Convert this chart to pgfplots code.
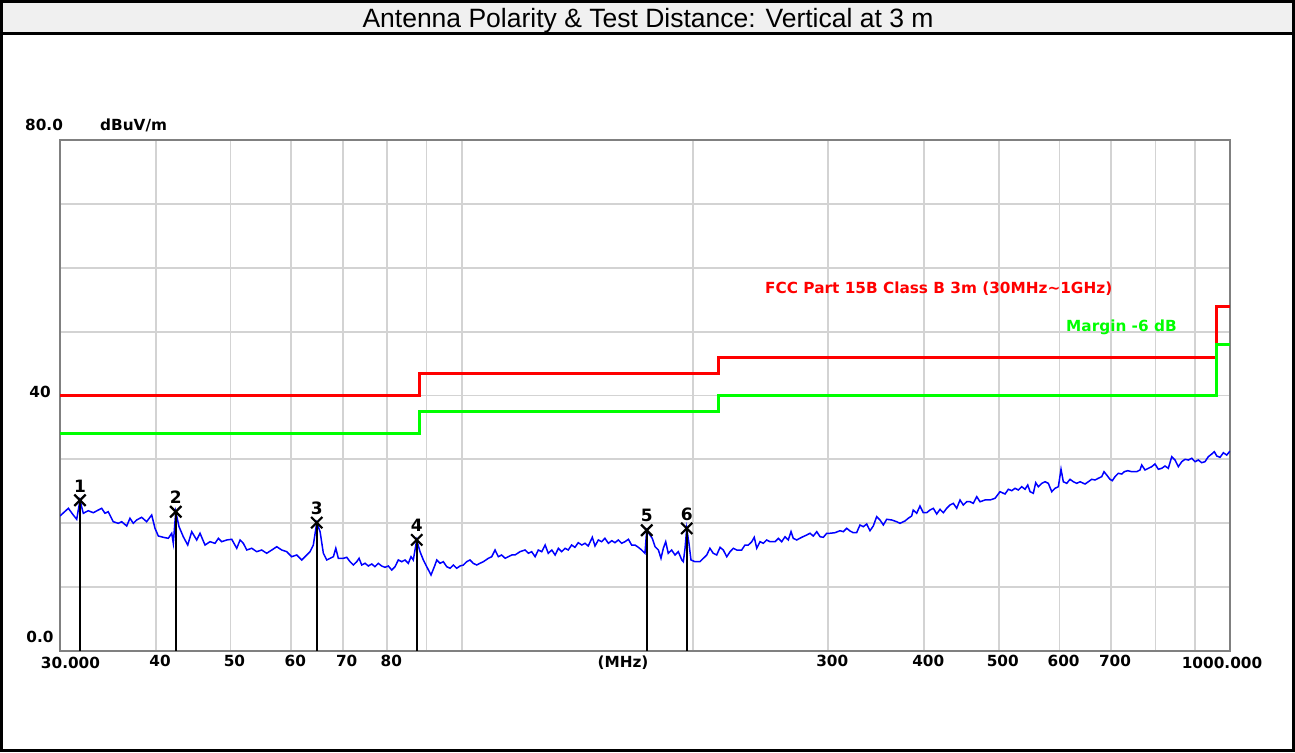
\documentclass[border=0pt]{standalone}
\usepackage{fontspec}
\setmainfont{Liberation Sans}
\newfontfamily\dejavu{DejaVu Sans}
\usepackage{pgfplots}
\pgfplotsset{compat=1.18}
\usepackage{pgfplotstable}
\definecolor{gridgray}{RGB}{211,211,211}
\definecolor{framegray}{RGB}{128,128,128}
\definecolor{titlebg}{RGB}{240,240,240}
\definecolor{limred}{RGB}{255,0,0}
\definecolor{margreen}{RGB}{0,255,0}
\definecolor{tracecol}{RGB}{0,0,255}
\newcommand\lb{\dejavu\bfseries\fontsize{15.3pt}{17pt}\selectfont}
\newcommand\mb{\dejavu\bfseries\fontsize{17pt}{19pt}\selectfont}

\pgfplotstableread{
f L
30.00 21.14
30.76 22.34
31.22 21.29
31.54 20.62
31.85 23.60
32.17 21.56
32.65 21.96
33.15 21.65
33.65 22.07
33.99 22.34
34.33 21.56
34.67 21.81
35.19 20.24
35.73 19.99
36.09 20.24
36.64 19.57
37.00 20.78
37.37 19.99
37.75 20.51
38.32 20.93
38.90 20.24
39.49 21.29
39.88 19.21
40.28 18.00
40.89 17.80
41.50 17.64
41.93 18.43
42.13 16.86
42.44 21.81
42.86 19.46
43.41 17.89
43.99 16.59
44.52 18.68
45.19 17.38
45.64 18.43
46.33 16.59
47.03 17.11
47.74 16.86
48.22 17.64
48.71 17.11
49.44 17.38
50.19 17.49
50.95 16.08
51.46 17.38
51.97 16.86
52.50 15.81
53.29 16.08
54.10 15.55
54.91 15.81
55.74 15.30
56.59 15.81
57.44 16.33
58.31 15.81
59.19 15.55
60.08 14.76
60.99 15.03
61.91 14.25
62.53 14.76
63.47 15.55
64.10 16.59
64.76 20.09
65.41 18.68
66.05 15.30
66.73 14.25
67.40 14.51
68.07 14.76
68.56 16.08
69.09 14.51
70.14 14.51
70.85 14.67
71.56 13.98
72.27 13.46
73.01 13.98
73.52 14.51
74.11 13.46
74.85 13.73
75.59 13.31
76.37 13.62
77.11 13.20
77.88 13.73
78.68 13.31
79.46 13.10
80.25 13.31
81.07 12.68
81.88 13.20
82.69 14.25
83.54 13.98
84.37 14.25
85.21 13.73
85.90 14.76
86.49 14.25
87.38 17.38
88.25 15.55
89.13 14.25
90.04 13.20
91.21 11.90
92.30 13.46
92.78 14.25
93.70 13.73
94.63 13.98
95.60 13.20
96.55 12.95
97.51 13.46
98.51 12.95
99.49 13.31
100.5 13.46
101.5 13.98
102.5 14.25
103.5 13.73
104.6 13.46
105.6 13.73
106.7 13.98
108.3 14.51
109.4 14.76
110.5 15.81
111.6 14.76
112.7 15.03
113.9 14.51
115.0 14.76
116.2 15.03
117.3 15.03
119.1 15.55
120.9 15.81
122.1 15.30
123.3 15.55
124.6 14.76
125.8 15.81
127.1 15.55
128.4 16.59
129.6 15.30
131.0 15.81
132.3 15.03
133.6 16.08
134.9 15.55
136.3 16.08
137.6 15.81
139.0 16.59
140.4 16.23
141.8 16.96
143.3 16.59
144.7 16.86
146.1 16.44
147.9 17.80
149.1 16.44
150.6 17.38
152.1 17.11
153.6 17.64
155.2 16.86
156.8 17.27
158.3 16.96
159.9 17.38
161.5 16.86
163.1 17.11
164.8 17.49
166.4 16.59
168.1 16.59
169.8 16.23
171.5 15.81
173.2 15.30
174.1 18.94
175.8 18.16
177.0 17.64
178.5 16.33
180.3 15.81
181.7 14.51
183.0 16.08
184.3 17.11
185.7 15.30
187.6 15.81
189.5 15.03
191.4 15.55
193.4 14.25
194.3 13.98
195.3 16.08
196.3 19.21
197.6 16.86
198.8 14.25
201.2 13.98
204.2 13.98
206.3 14.51
208.4 15.03
210.4 16.08
212.5 15.30
214.7 15.03
216.9 16.23
219.0 15.81
221.3 14.76
223.5 15.55
225.7 16.08
228.0 15.81
231.4 15.81
233.7 16.59
236.1 16.59
238.5 17.11
240.3 17.80
242.1 16.08
244.5 17.11
246.9 16.86
249.4 17.38
251.9 17.11
255.7 17.11
258.3 17.64
260.9 17.11
263.5 17.89
266.1 17.38
268.3 18.68
270.1 17.64
272.9 17.38
277.0 17.80
281.2 18.16
284.0 18.43
286.8 18.00
289.8 18.68
292.7 17.89
295.6 17.80
298.6 18.43
301.5 18.43
306.1 18.52
310.7 18.83
313.8 18.68
317.0 19.21
320.2 18.79
323.3 18.52
326.6 18.52
329.9 19.73
333.2 19.46
336.6 19.88
339.9 18.83
343.3 19.57
346.8 21.03
350.3 20.51
353.8 19.73
357.4 20.62
362.8 20.51
368.3 20.24
371.9 19.99
377.5 20.35
381.3 20.78
385.2 21.14
387.0 22.07
391.0 21.56
394.9 22.70
398.8 21.65
402.9 21.65
406.9 22.07
411.0 22.34
415.2 21.45
419.3 22.18
423.5 21.65
427.8 22.34
432.1 22.86
436.4 23.12
440.8 22.34
445.2 23.64
449.6 22.86
454.3 23.37
458.8 23.37
463.3 23.12
468.1 24.16
472.7 23.37
479.9 23.64
487.1 23.64
494.5 23.91
501.9 24.94
509.5 24.58
514.6 25.32
519.9 25.10
525.0 25.47
530.2 25.21
535.7 25.72
541.0 25.32
545.4 25.99
549.2 24.94
554.6 24.69
558.6 26.35
563.0 25.72
568.8 26.25
574.4 26.50
580.1 26.25
586.1 24.94
591.9 25.47
597.8 25.72
602.6 28.45
606.8 26.50
613.0 26.25
619.1 26.88
625.3 26.50
631.7 26.25
638.0 26.50
647.6 26.14
654.0 26.50
660.7 26.88
667.3 26.77
673.9 27.04
680.8 27.29
685.5 28.07
691.1 27.55
697.9 26.88
702.8 26.66
708.5 27.29
715.5 27.82
722.9 27.71
728.5 28.07
736.0 28.23
744.8 28.07
756.1 28.07
763.6 28.34
767.5 29.12
775.1 28.34
782.9 28.60
790.9 28.85
798.7 29.28
806.7 28.45
814.9 28.60
823.0 28.96
831.2 28.60
839.7 30.42
848.1 29.90
856.5 28.85
865.3 29.64
873.9 30.01
882.5 29.90
891.6 30.17
900.5 29.64
909.4 29.90
918.7 29.48
927.8 29.64
937.1 30.42
946.7 30.84
954.1 31.20
961.0 30.53
970.5 30.32
980.2 31.04
990.2 30.68
1000 31.31
}\tracetable

\pgfplotstableread{
f L n
31.85 23.6 1
42.44 21.8 2
64.76 20.1 3
87.38 17.4 4
174.1 18.9 5
196.3 19.2 6
}\markers

\pgfplotstableread{
f L
30 40
88 40
88 43.5
216 43.5
216 46
960 46
960 54
1000 54
}\limitline

\pgfplotstableread{
f L
30 34
88 34
88 37.5
216 37.5
216 40
960 40
960 48
1000 48
}\marginline

\begin{document}
\begin{tikzpicture}[x=1pt,y=1pt]
\useasboundingbox (0,0) rectangle (1295,752);
\fill[titlebg] (0,718) rectangle (1295,752);
\begin{axis}[
  at={(60pt,101pt)}, anchor=south west,
  scale only axis, width=1170pt, height=511pt,
  xmode=log, xmin=30, xmax=1000, ymin=0, ymax=80,
  xtick={30,40,50,60,70,80,90,100,200,300,400,500,600,700,800,900,1000},
  xticklabels={,40,50,60,70,80,,,,300,400,500,600,700,,,},
  ytick={0,10,20,30,40,50,60,70,80}, yticklabels={},
  major tick length=0pt,
  xmajorgrids, ymajorgrids,
  major grid style={gridgray, line width=1.8pt},
  axis line style={framegray, line width=2pt},
  xticklabel style={font=\lb, xshift=4pt, yshift=-1pt},
  /pgf/number format/assume math mode=true,
]
\addplot[limred, line width=3pt, no marks] table[x=f,y=L]{\limitline};
\addplot[margreen, line width=3pt, no marks] table[x=f,y=L]{\marginline};
\addplot[tracecol, line width=1.5pt, no marks] table[x=f,y=L]{\tracetable};
\addplot[black, line width=2pt, ycomb, no marks] table[x=f,y=L]{\markers};
\addplot[only marks, mark=x, mark size=8pt, black, line width=2.2pt,
  mark options={solid},
  nodes near coords, point meta=explicit symbolic,
  nodes near coords style={font=\mb, anchor=south, inner sep=0pt, yshift=7pt, text=black}]
  table[x=f,y=L,meta=n]{\markers};
\end{axis}
% frame
\draw[black, line width=3pt] (1.5,1.5) rectangle (1293.5,750.5);
\draw[black, line width=3pt] (0,718) -- (1295,718);
% title
\node[font=\fontsize{26.5pt}{30pt}\selectfont, inner sep=0pt] at (648,731) {Antenna Polarity \& Test Distance: Vertical at 3 m};
% axis texts
\node[font=\lb, anchor=west, inner sep=0pt] at (25,627) {80.0};
\node[font=\lb, anchor=west, inner sep=0pt] at (100,627) {dBuV/m};
\node[font=\lb, inner sep=0pt] at (40,360) {40};
\node[font=\lb, inner sep=0pt] at (40,115) {0.0};
\node[font=\lb, inner sep=0pt] at (70.5,89) {30.000};
\node[font=\lb, inner sep=0pt] at (1222,89) {1000.000};
\node[font=\lb, inner sep=0pt] at (623,89) {(MHz)};
% limit texts
\node[font=\lb, anchor=west, inner sep=0pt, text=limred] at (765,463) {FCC Part 15B Class B 3m (30MHz\textasciitilde 1GHz)};
\node[font=\lb, anchor=west, inner sep=0pt, text=margreen] at (1066,425) {Margin -6 dB};
\end{tikzpicture}
\end{document}
